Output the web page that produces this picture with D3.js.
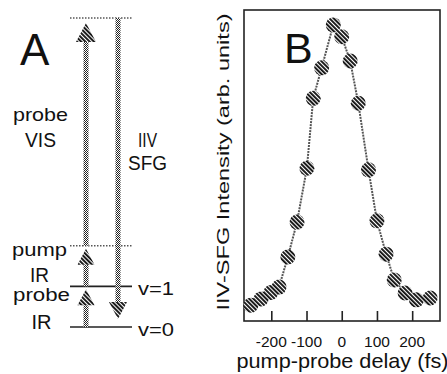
<!DOCTYPE html>
<html><head><meta charset="utf-8">
<script src="https://cdn.jsdelivr.net/npm/d3@7"></script>
<style>
body{margin:0;background:#fff}
svg{display:block}
text{font-family:"Liberation Sans",Arial,Helvetica,sans-serif;fill:#111}
</style>
</head><body>
<svg id="c" width="447" height="374"></svg>
<script>
// ---------- Panel B data ----------
const delays    = [-258,-229,-201,-178,-153,-127,-99,-81,-57,-24,0,24,47,76,100,126,149,180,212,251];
const intensity = [0.051,0.071,0.092,0.109,0.206,0.318,0.491,0.716,0.814,0.952,0.914,0.836,0.700,0.486,0.322,0.215,0.132,0.090,0.068,0.074];
const xTicks      = [-200,-100,0,100,200];
const xTickLabels = ["-200","-100","0","100","200"];
const xTitle = "pump-probe delay (fs)";
const yTitle = "IIV-SFG Intensity (arb.  units)";

// ---------- Panel A data (energies in units of the IR quantum) ----------
const levelEnergies = [0, 1, 2, 7.6];
const levelNames    = ["v=0", "v=1", "", ""];
const arrowFrom  = [0, 1, 2, 7.6];
const arrowTo    = [1, 2, 7.6, 0];
const arrowCol   = ["beam", "beam", "beam", "sfg"];
const arrowLabel = [["probe","IR"], ["pump","IR"], ["probe","VIS"], ["IIV","SFG"]];

const svg = d3.select("#c");
const defs = svg.append("defs");
const hatch = defs.append("pattern").attr("id","hatch").attr("patternUnits","userSpaceOnUse")
  .attr("width",3).attr("height",3).attr("patternTransform","rotate(-45)");
hatch.append("rect").attr("width",3).attr("height",3).attr("fill","#fff");
hatch.append("rect").attr("width",1.9).attr("height",3).attr("fill","#111");
const chk = defs.append("pattern").attr("id","chk").attr("patternUnits","userSpaceOnUse")
  .attr("width",2).attr("height",2);
chk.append("rect").attr("width",2).attr("height",2).attr("fill","#fff");
chk.append("rect").attr("x",0).attr("y",0).attr("width",1).attr("height",1).attr("fill","#222");
chk.append("rect").attr("x",1).attr("y",1).attr("width",1).attr("height",1).attr("fill","#222");

// ================= Panel A =================
const yA = d3.scaleLinear().domain([0, 7.6]).range([327, 18]);
const xA = d3.scalePoint().domain(["beam","sfg"]).range([86, 118]);
const A = svg.append("g");

A.append("text").attr("x",20).attr("y",65).attr("font-size",44).text("A");

// levels
A.selectAll("line.lvl").data(levelEnergies).join("line").attr("class","lvl")
  .attr("x1",70).attr("x2",132)
  .attr("y1",d=>yA(d)).attr("y2",d=>yA(d))
  .attr("stroke",(d,i)=> i<2 ? "#222" : "#555")
  .attr("stroke-width",1.6)
  .attr("stroke-dasharray",(d,i)=> i<2 ? null : "1.5,1.5");
A.selectAll("text.lvl").data(levelEnergies.filter((d,i)=>levelNames[i])).join("text").attr("class","lvl")
  .attr("x",138).attr("y",d=>yA(d)+8.5)
  .attr("font-size",19).attr("textLength",36).attr("lengthAdjust","spacingAndGlyphs")
  .text((d,i)=>levelNames[i]);

// arrows
const arrows = arrowFrom.map((f,i)=>({from:f, to:arrowTo[i], col:arrowCol[i], label:arrowLabel[i]}));
function headGeom(a){
  const up = a.to > a.from;
  const big = Math.abs(a.to - a.from) > 2;
  const w = up ? (big ? 20 : 17) : 18;
  const h = up ? (big ? 19 : 16) : 17;
  const off = up ? (big ? 5 : 3) : 8;
  const tip = up ? yA(a.to) + off : yA(a.to) - off;
  const base = up ? tip + h : tip - h;
  return {w,h,tip,base};
}
A.selectAll("line.shaft").data(arrows).join("line").attr("class","shaft")
  .attr("x1",d=>xA(d.col)).attr("x2",d=>xA(d.col))
  .attr("y1",d=>yA(d.from)).attr("y2",d=>headGeom(d).base)
  .attr("stroke","url(#chk)").attr("stroke-width",5);
A.selectAll("path.head").data(arrows).join("path").attr("class","head")
  .attr("d",d=>{const g=headGeom(d), x=xA(d.col);
    return `M${x},${g.tip}L${x+g.w/2},${g.base}L${x-g.w/2},${g.base}Z`;})
  .attr("fill","url(#hatch)");

// arrow labels
const labelPos = {
  "probe IR": {x:41.5, y1:301, y2:329, w1:57, w2:20, f1:18, f2:20},
  "pump IR":  {x:39.5, y1:256, y2:282, w1:55, w2:19, f1:19, f2:20},
  "probe VIS":{x:40.5, y1:121, y2:147, w1:55, w2:31, f1:19, f2:20},
  "IIV SFG":  {x:147.5,y1:147, y2:170, w1:19, w2:39, f1:20, f2:20}
};
arrows.forEach(a=>{
  const p = labelPos[a.label.join(" ")];
  A.append("text").attr("x",p.x).attr("y",p.y1).attr("text-anchor","middle")
    .attr("font-size",p.f1).attr("textLength",p.w1).attr("lengthAdjust","spacingAndGlyphs").text(a.label[0]);
  A.append("text").attr("x",p.x).attr("y",p.y2).attr("text-anchor","middle")
    .attr("font-size",p.f2).attr("textLength",p.w2).attr("lengthAdjust","spacingAndGlyphs").text(a.label[1]);
});

// ================= Panel B =================
const x = d3.scaleLinear().domain([-277.5, 279]).range([244, 440]);
const y = d3.scaleLinear().domain([0, 1]).range([321, 10]);
const B = svg.append("g");

// frame
B.append("rect").attr("x",x.range()[0]).attr("y",y.range()[1])
  .attr("width",x.range()[1]-x.range()[0]).attr("height",y.range()[0]-y.range()[1])
  .attr("fill","none").attr("stroke","#222").attr("stroke-width",1.6);

// bottom axis (ticks pointing inward)
const ax = B.append("g").attr("transform",`translate(0,${y(0)})`)
  .call(d3.axisTop(x).tickValues(xTicks).tickSize(10).tickFormat(""));
ax.select(".domain").remove();
ax.selectAll("line").attr("stroke","#222").attr("stroke-width",1.6);
B.selectAll("text.tl").data(xTicks).join("text").attr("class","tl")
  .attr("x",d=>x(d)).attr("y",347).attr("text-anchor","middle").attr("font-size",15.5)
  .text((d,i)=>xTickLabels[i]);

B.append("text").attr("x",284).attr("y",63).attr("font-size",43).text("B");

// titles
B.append("text").attr("x",(x.range()[0]+x.range()[1])/2 + 0.5).attr("y",368)
  .attr("text-anchor","middle").attr("font-size",21)
  .attr("textLength",212).attr("lengthAdjust","spacingAndGlyphs").text(xTitle);
B.append("text").attr("transform","translate(229,162) rotate(-90)")
  .attr("text-anchor","middle").attr("font-size",17)
  .attr("textLength",297).attr("lengthAdjust","spacingAndGlyphs").text(yTitle);

// data line + markers
const pts = delays.map((d,i)=>[d, intensity[i]]);
B.append("path").datum(pts)
  .attr("d",d3.line().x(d=>x(d[0])).y(d=>y(d[1])))
  .attr("fill","none").attr("stroke","#555").attr("stroke-width",2).attr("stroke-dasharray","2,1");
B.selectAll("circle.pt").data(pts).join("circle").attr("class","pt")
  .attr("cx",d=>x(d[0])).attr("cy",d=>y(d[1])).attr("r",7.5)
  .attr("fill","url(#hatch)");
</script>
</body></html>
